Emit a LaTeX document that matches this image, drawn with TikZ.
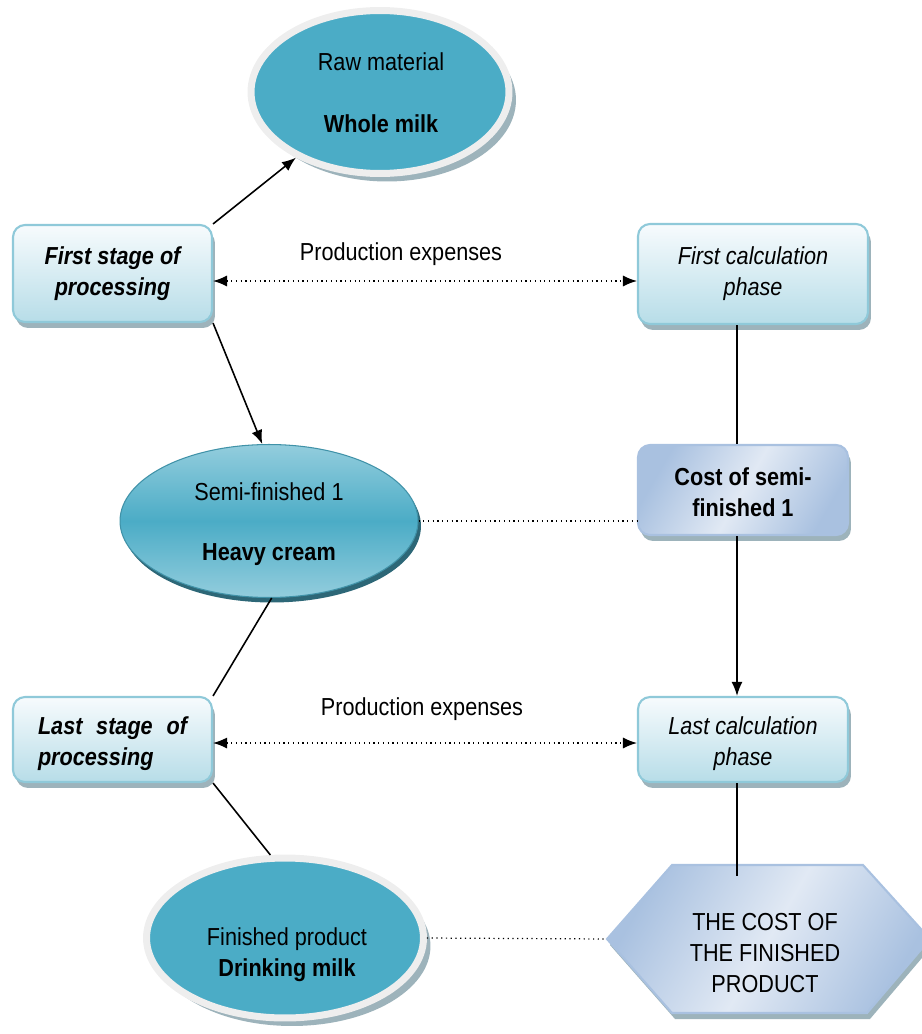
\documentclass[tikz,border=0pt]{standalone}
\usepackage{fontspec}
\setmainfont{Liberation Sans}[FakeStretch=0.88]
\usetikzlibrary{arrows.meta,shadows,shapes.geometric}
\definecolor{milkTeal}{HTML}{4BACC6}
\definecolor{milkLight}{HTML}{93CDDD}
\definecolor{milkRim}{HTML}{EEEEEE}
\definecolor{milkShade}{HTML}{9DB3BB}
\definecolor{boxTop}{HTML}{F7FBFD}
\definecolor{boxBot}{HTML}{B7DDE8}
\definecolor{boxLine}{HTML}{8FC9D9}
\definecolor{costLight}{HTML}{E1E9F4}
\definecolor{costDark}{HTML}{A9C1E0}
\def\txtSize{\fontsize{14}{17.6}\selectfont}
\def\arrowTip{{Latex[length=0.28cm,width=0.22cm]}}

\begin{document}
\begin{tikzpicture}[x=0.02cm, y=-0.02cm,
  every node/.style={font=\txtSize, align=center, inner sep=0pt},
  rimEllipse/.style={ellipse, fill=milkTeal, draw=milkRim, line width=0.14cm,
    drop shadow={shadow xshift=0.14cm, shadow yshift=-0.16cm, fill=milkShade, opacity=1}},
  midEllipse/.style={ellipse, top color=milkLight, bottom color=milkLight, middle color=milkTeal,
    draw=milkTeal!85!black, line width=0.6pt,
    drop shadow={shadow xshift=0.06cm, shadow yshift=-0.1cm, fill=milkTeal!60!black, opacity=1}},
  stageBox/.style={rectangle, rounded corners=0.24cm, top color=boxTop, bottom color=boxBot,
    draw=boxLine, line width=1.2pt,
    drop shadow={shadow xshift=0.06cm, shadow yshift=-0.12cm, fill=milkShade, opacity=1}},
  costFill/.style={left color=costDark, right color=costDark, middle color=costLight,
    shading angle=60, draw=costDark, line width=1.2pt,
    drop shadow={shadow xshift=0.06cm, shadow yshift=-0.12cm, fill=milkShade, opacity=1}},
  link/.style={line width=0.9pt},
  arr/.style={link, -\arrowTip},
  dots/.style={line width=0.7pt, dotted},
  ]
  \useasboundingbox (0,0) rectangle (922,1034);

  % shapes on the left
  \node[rimEllipse, minimum width=5.16cm, minimum height=3.26cm] (raw) at (380,92) {};
  \node[stageBox, minimum width=3.98cm, minimum height=1.94cm] (first) at (112.5,273.5) {};
  \node[midEllipse, minimum width=5.96cm, minimum height=3.06cm] (semi) at (269,521) {};
  \node[stageBox, minimum width=3.98cm, minimum height=1.7cm] (last) at (112.5,739.5) {};
  \node[rimEllipse, minimum width=5.54cm, minimum height=3.2cm] (fin) at (285,938) {};

  % shapes on the right
  \node[stageBox, minimum width=4.6cm, minimum height=2.0cm] (firstcalc) at (753,274) {};
  \node[rectangle, rounded corners=0.24cm, costFill, minimum width=4.2cm, minimum height=1.8cm] (costsemi) at (743,490) {};
  \node[stageBox, minimum width=4.2cm, minimum height=1.7cm] (lastcalc) at (743,739.5) {};
  \coordinate (hexL) at (607,939);
  \coordinate (hexTL) at (672,865);
  \coordinate (hexTR) at (863,865);
  \coordinate (hexR) at (930,939);
  \coordinate (hexBR) at (867,1013);
  \coordinate (hexBL) at (672,1013);
  \draw[costFill] (hexL) -- (hexTL) -- (hexTR) -- (hexR) -- (hexBR) -- (hexBL) -- cycle;

  % texts
  \node (rawTxt) at (381,93) {Raw material\\[0.62cm]\textbf{Whole milk}};
  \node (firstTxt) at (112.5,274) {\bfseries\itshape First stage of\\\bfseries\itshape processing};
  \node (firstcalcTxt) at (753,274) {\itshape First calculation\\\itshape phase};
  \node (semiTxt) at (269,524) {Semi-finished 1\\[0.58cm]\textbf{Heavy cream}};
  \node (costsemiTxt) at (743,492) {\bfseries Cost of semi-\\\bfseries finished 1};
  \node[align=left] (lastTxt) at (112.5,744) {\bfseries\itshape\makebox[2.98cm][s]{Last stage of}\\\bfseries\itshape processing};
  \node (lastcalcTxt) at (743,744) {\itshape Last calculation\\\itshape phase};
  \node (finTxt) at (287,955) {Finished product\\\textbf{Drinking milk}};
  \node (costfin) at (765,953) {THE COST OF\\THE FINISHED\\PRODUCT};
  \node (expA) at (401,254) {Production expenses};
  \node (expB) at (422,709) {Production expenses};

  % connectors
  \coordinate (col) at (737,0);
  \coordinate (rowA) at (0,281);
  \coordinate (rowB) at (0,743);
  \coordinate (hexT) at (737,876);
  \draw[arr] (first.north east) -- (raw.218);
  \draw[arr] (first.south east) -- (semi.95);
  \draw[link] (semi.272) -- (last.north east);
  \draw[link] (last.south east) -- (fin.100);
  \draw[dots, \arrowTip-\arrowTip] (first.east |- rowA) -- (firstcalc.west |- rowA);
  \draw[dots, \arrowTip-\arrowTip] (last.east |- rowB) -- (lastcalc.west |- rowB);
  \draw[dots] (semi.east) -- (semi.east -| costsemi.west);
  \draw[dots] (fin.east) -- (hexL);
  \draw[link] (firstcalc.south -| col) -- (costsemi.north -| col);
  \draw[arr] (costsemi.south -| col) -- (lastcalc.north -| col);
  \draw[link] (lastcalc.south -| col) -- (hexT);
\end{tikzpicture}
\end{document}
